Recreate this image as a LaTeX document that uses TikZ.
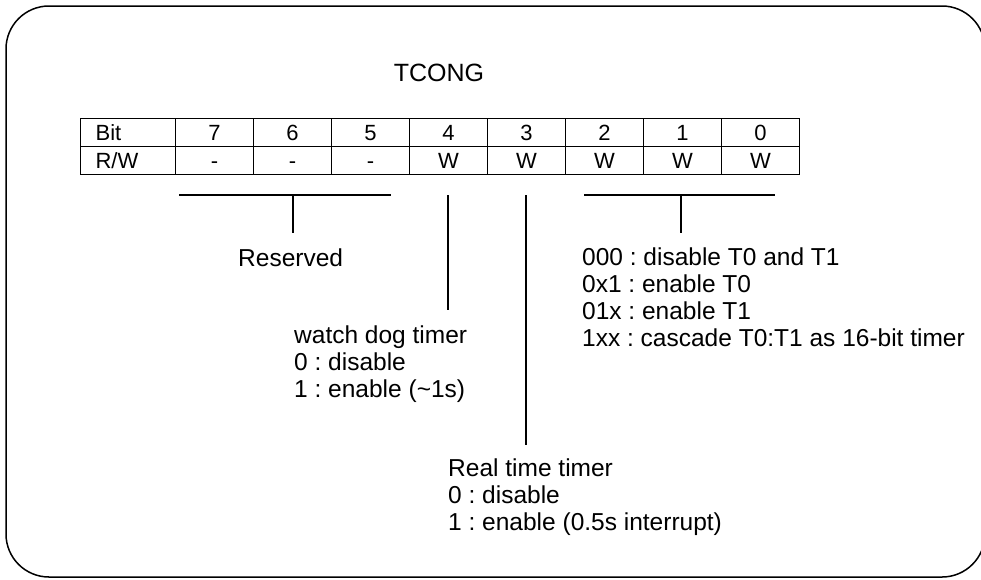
\documentclass[tikz,border=0pt]{standalone}
\usepackage{fontspec}
\setmainfont{Liberation Sans}
\frenchspacing
\begin{document}
\begin{tikzpicture}[x=1pt,y=-1pt,
  frame/.style={draw, line width=1.5pt, rounded corners=43pt},
  cellbox/.style={draw, line width=1.2pt, anchor=north west, inner sep=0pt, minimum height=28pt, text height=16pt, text depth=0pt, font=\fontsize{22}{26}\selectfont},
  digitcell/.style={cellbox, minimum width=78pt},
  headcell/.style={cellbox, text width=65pt, align=left, inner xsep=15pt},
  bracket/.style={line width=1.3pt},
  lbl/.style={anchor=base west, inner sep=0pt, align=left, font=\fontsize{24.5}{27}\selectfont},
  titletext/.style={anchor=base, inner sep=0pt, font=\fontsize{25}{30}\selectfont}
]
\useasboundingbox (0,0) rectangle (981,579);
\path[frame] (6,6) rectangle (985,577);

\node[titletext] (title) at (439,81) {TCONG};

\node[headcell] (bit) at (80,118) {Bit};
\node[headcell] (rw) at (80,146) {R/W};
\foreach \b [count=\i from 0] in {7,6,5,4,3,2,1,0} {
  \node[digitcell] (b\b) at ({175+78*\i},118) {\b};
  \node[digitcell] (w\b) at ({175+78*\i},146) {\ifnum\b>4 -\else W\fi};
}

% bracket coordinates
\coordinate (resL) at (179,195);
\coordinate (resR) at (391,195);
\coordinate (resT) at (293,195);
\coordinate (resB) at (293,233);
\coordinate (wdT) at (448,195);
\coordinate (wdB) at (448,310);
\coordinate (rtT) at (526,195);
\coordinate (rtB) at (526,445);
\coordinate (mdL) at (584,195);
\coordinate (mdR) at (775,195);
\coordinate (mdT) at (681,195);
\coordinate (mdB) at (681,233);

\draw[bracket] (resL) -- (resR);
\draw[bracket] (resT) -- (resB);
\draw[bracket] (wdT) -- (wdB);
\draw[bracket] (rtT) -- (rtB);
\draw[bracket] (mdL) -- (mdR);
\draw[bracket] (mdT) -- (mdB);

\node[lbl] (res) at (238,266) {Reserved};
\node[lbl] (mode) at (582,346) {000 : disable T0 and T1\\0x1 : enable T0\\01x : enable T1\\1xx : cascade T0:T1 as 16-bit timer};
\node[lbl] (wdt) at (294,397) {watch dog timer\\0 : disable\\1 : enable (\textasciitilde1s)};
\node[lbl] (rtt) at (448,530) {Real time timer\\0 : disable\\1 : enable (0.5s interrupt)};
\end{tikzpicture}
\end{document}
